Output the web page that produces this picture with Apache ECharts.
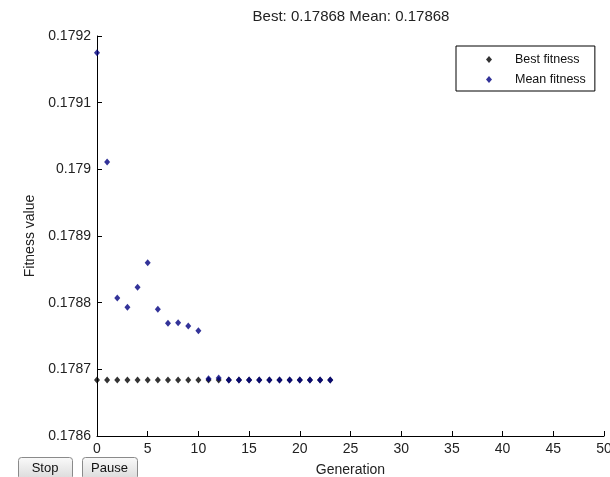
<!DOCTYPE html>
<html><head><meta charset="utf-8">
<script src="https://cdn.jsdelivr.net/npm/echarts@6/dist/echarts.min.js"></script>
<style>html,body{margin:0;padding:0;background:#fff;overflow:hidden}#c{width:610px;height:477px}</style>
</head><body><div id="c"></div>
<script>
const generations = [0,1,2,3,4,5,6,7,8,9,10,11,12,13,14,15,16,17,18,19,20,21,22,23];
const bestFitness = [0.178684,0.178684,0.178684,0.178684,0.178684,0.178684,0.178684,0.178684,0.178684,0.178684,0.178684,0.178684,0.178684,0.178684,0.178684,0.178684,0.178684,0.178684,0.178684,0.178684,0.178684,0.178684,0.178684,0.178684];
const meanFitness = [0.179175,0.179011,0.178807,0.178793,0.178823,0.17886,0.17879,0.178769,0.17877,0.178765,0.178758,0.178686,0.178687,0.178684,0.178684,0.178684,0.178684,0.178684,0.178684,0.178684,0.178684,0.178684,0.178684,0.178684];
const titleText = 'Best: 0.17868 Mean: 0.17868';
const seriesNames = ['Best fitness','Mean fitness'];

const FONT = 'Liberation Sans, Arial, sans-serif';
const chart = echarts.init(document.getElementById('c'), null, {renderer:'canvas'});
function btn(x, w, label){
  return {type:'group', left:x, top:457, children:[
    {type:'rect', shape:{x:0.5,y:0.5,width:w,height:22,r:3},
     style:{fill:new echarts.graphic.LinearGradient(0,0,0,1,[{offset:0,color:'#fafafa'},{offset:1,color:'#dadada'}]), stroke:'#8a8a8a', lineWidth:1}},
    {type:'text', x:w/2, y:11, style:{text:label, font:'13px '+FONT, fill:'#111', align:'center', verticalAlign:'middle'}}
  ]};
}
chart.setOption({
  animation:false,
  backgroundColor:'#fff',
  title:{text:titleText, left:346, top:4, textAlign:'center',
    textStyle:{fontFamily:FONT, fontSize:15, fontWeight:'normal', color:'#222'}},
  grid:{left:97, right:6, top:36, bottom:41, containLabel:false, outerBoundsMode:'none'},
  legend:{left:456, top:46, orient:'vertical', borderColor:'#000', borderWidth:1,
    padding:[7,9,5,30], itemGap:7, itemWidth:6, itemHeight:7, icon:'diamond',
    textStyle:{fontFamily:FONT, fontSize:12.5, color:'#111', padding:[0,0,0,18]},
    data:seriesNames, backgroundColor:'#fff'},
  xAxis:{type:'value', min:0, max:50, interval:5,
    name:'Generation', nameLocation:'middle', nameGap:27,
    nameTextStyle:{fontFamily:FONT, fontSize:14, color:'#222'},
    axisLine:{show:true, lineStyle:{color:'#000', width:1}},
    axisTick:{show:true, inside:true, length:5, lineStyle:{color:'#000'}},
    axisLabel:{fontFamily:FONT, fontSize:14, color:'#222', margin:6},
    splitLine:{show:false}},
  yAxis:{type:'value', min:0.1786, max:0.1792, interval:0.0001,
    name:'Fitness value', nameLocation:'middle', nameGap:60,
    nameTextStyle:{fontFamily:FONT, fontSize:14, color:'#222'},
    axisLine:{show:true, lineStyle:{color:'#000', width:1}},
    axisTick:{show:true, inside:true, length:5, lineStyle:{color:'#000'}},
    axisLabel:{fontFamily:FONT, fontSize:14, color:'#222', margin:6,
      formatter:v=>String(+v.toFixed(4))},
    splitLine:{show:false}},
  series:[
    {name:seriesNames[0], type:'scatter', symbol:'diamond', symbolSize:[6,7],
     itemStyle:{color:'#000'}, data:generations.map((g,i)=>[g,bestFitness[i]])},
    {name:seriesNames[1], type:'scatter', symbol:'diamond', symbolSize:[6,7],
     itemStyle:{color:'#000080'}, data:generations.map((g,i)=>[g,meanFitness[i]])}
  ],
  graphic:[btn(18,54,'Stop'), btn(82,55,'Pause')]
});
</script></body></html>
